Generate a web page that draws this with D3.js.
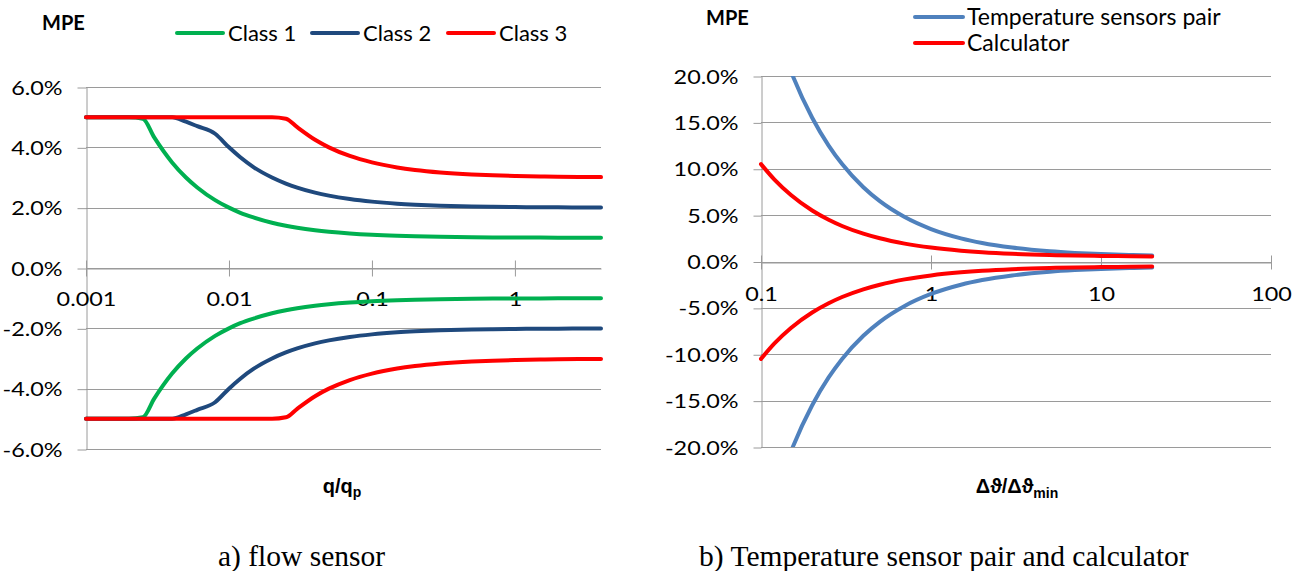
<!DOCTYPE html>
<html>
<head>
<meta charset="utf-8">
<script src="https://cdn.jsdelivr.net/npm/d3@7"></script>
<style>
  html, body { margin: 0; padding: 0; background: #fff; }
  svg { display: block; }
</style>
</head>
<body>
<svg id="chart" width="1303" height="571"></svg>
<script>
// ---------------- DATA ----------------
// a) flow sensor : x = q/qp, MPE in %
const flowX       = [0.001, 0.002, 0.0025, 0.003, 0.004, 0.005, 0.006, 0.008, 0.01, 0.012, 0.015, 0.02, 0.025, 0.03, 0.04, 0.05, 0.07, 0.1, 0.15, 0.2, 0.3, 0.5, 0.7, 1, 1.5, 2, 3, 4];
const class1Upper = [5, 5, 4.95, 4.33, 3.5, 3.0, 2.67, 2.25, 2.0, 1.83, 1.67, 1.5, 1.4, 1.333, 1.25, 1.2, 1.143, 1.1, 1.067, 1.05, 1.033, 1.02, 1.014, 1.01, 1.007, 1.005, 1.003, 1.0025];
const class1Lower = [-5, -5, -4.95, -4.33, -3.5, -3.0, -2.67, -2.25, -2.0, -1.83, -1.67, -1.5, -1.4, -1.333, -1.25, -1.2, -1.143, -1.1, -1.067, -1.05, -1.033, -1.02, -1.014, -1.01, -1.007, -1.005, -1.003, -1.0025];
const class2Upper = [5, 5, 5, 5, 5, 4.85, 4.7, 4.45, 4.0, 3.67, 3.33, 3.0, 2.8, 2.667, 2.5, 2.4, 2.286, 2.2, 2.133, 2.1, 2.067, 2.04, 2.029, 2.02, 2.013, 2.01, 2.007, 2.005];
const class2Lower = [-5, -5, -5, -5, -5, -4.85, -4.7, -4.45, -4.0, -3.67, -3.33, -3.0, -2.8, -2.667, -2.5, -2.4, -2.286, -2.2, -2.133, -2.1, -2.067, -2.04, -2.029, -2.02, -2.013, -2.01, -2.007, -2.005];
const class3Upper = [5, 5, 5, 5, 5, 5, 5, 5, 5, 5, 5, 5, 4.95, 4.667, 4.25, 4.0, 3.714, 3.5, 3.333, 3.25, 3.167, 3.1, 3.071, 3.05, 3.033, 3.025, 3.017, 3.0125];
const class3Lower = [-5, -5, -5, -5, -5, -5, -5, -5, -5, -5, -5, -5, -4.95, -4.667, -4.25, -4.0, -3.714, -3.5, -3.333, -3.25, -3.167, -3.1, -3.071, -3.05, -3.033, -3.025, -3.017, -3.0125];
const flowSeriesNames = ["Class 1", "Class 2", "Class 3"];
const flowYTicks = [-6, -4, -2, 0, 2, 4, 6];
const flowXTicks = [0.001, 0.01, 0.1, 1];
const flowXTickLabels = ["0.001", "0.01", "0.1", "1"];

// b) temperature sensor pair and calculator : x = Δϑ/Δϑmin, MPE in %
const tempX      = [0.1, 0.12, 0.15, 0.2, 0.25, 0.3, 0.4, 0.5, 0.7, 1, 1.5, 2, 3, 5, 7, 10, 15, 20];
const pairUpper  = [30.5, 25.5, 20.5, 15.5, 12.5, 10.5, 8.0, 6.5, 4.79, 3.5, 2.5, 2.0, 1.5, 1.1, 0.93, 0.8, 0.7, 0.65];
const pairLower  = [-30.5, -25.5, -20.5, -15.5, -12.5, -10.5, -8.0, -6.5, -4.79, -3.5, -2.5, -2.0, -1.5, -1.1, -0.93, -0.8, -0.7, -0.65];
const calcUpper  = [10.5, 8.83, 7.17, 5.5, 4.5, 3.83, 3.0, 2.5, 1.93, 1.5, 1.17, 1.0, 0.83, 0.7, 0.64, 0.6, 0.57, 0.55];
const calcLower  = [-10.5, -8.83, -7.17, -5.5, -4.5, -3.83, -3.0, -2.5, -1.93, -1.5, -1.17, -1.0, -0.83, -0.7, -0.64, -0.6, -0.57, -0.55];
const tempSeriesNames = ["Temperature sensors pair", "Calculator"];
const tempYTicks = [-20, -15, -10, -5, 0, 5, 10, 15, 20];
const tempXTicks = [0.1, 1, 10, 100];
const tempXTickLabels = ["0.1", "1", "10", "100"];

// ---------------- STYLE ----------------
const GRID = "#9a9a9a";
const FONT = "Lato, 'Open Sans', sans-serif";
const COLORS = { green: "#00B050", navy: "#1F497D", red: "#FF0000", blue: "#4F81BD" };
const LW = 4;
const TICK_FS = 19.5;   // tick label font size
const TICK_SX = 1.2;    // horizontal stretch of tick labels (matches the reference glyph proportions)

const svg = d3.select("#chart");
svg.append("rect").attr("width", 1303).attr("height", 571).attr("fill", "#fff");

const zip = (xs, ys) => xs.map((x, i) => [x, ys[i]]);

function drawPanel(cfg) {
  const g = svg.append("g");
  const x = d3.scaleLog().domain(cfg.xDomain).range(cfg.xRange);
  const y = d3.scaleLinear().domain(cfg.yDomain).range(cfg.yRange);
  const [x0, x1] = cfg.xRange;
  const [yb, yt] = cfg.yRange;

  // gridlines
  g.append("g").selectAll("line").data(cfg.yTicks).join("line")
    .attr("x1", x0).attr("x2", x1)
    .attr("y1", d => Math.round(y(d)) + 0.5).attr("y2", d => Math.round(y(d)) + 0.5)
    .attr("stroke", GRID).attr("stroke-width", 1);

  // y axis
  const ya = g.append("g").attr("transform", `translate(${Math.round(x0) + 0.5},0)`)
    .call(d3.axisLeft(y).tickValues(cfg.yTicks).tickSizeInner(cfg.yTickLen).tickSizeOuter(0)
      .tickPadding(cfg.yTickPad).tickFormat(d => d.toFixed(1) + "%"));
  ya.select(".domain").attr("stroke", GRID);
  ya.selectAll(".tick line").attr("stroke", GRID).attr("transform", "translate(0,0.5)");
  ya.selectAll(".tick text").attr("font-size", TICK_FS).attr("fill", "#000")
    .attr("font-family", FONT).attr("dy", "0.36em")
    .attr("x", -(cfg.yTickLen + cfg.yTickPad) / TICK_SX)
    .attr("transform", `scale(${TICK_SX},1)`);

  // x axis at y = 0
  const xa = g.append("g").attr("transform", `translate(0,${Math.round(y(0)) + 0.5})`)
    .call(d3.axisBottom(x).tickValues(cfg.xTicks).tickSizeInner(cfg.xTickLen).tickSizeOuter(0)
      .tickFormat((d, i) => cfg.xTickLabels[i]));
  xa.select(".domain").attr("stroke", GRID);
  xa.selectAll(".tick line").attr("stroke", GRID).attr("y1", -cfg.xTickLen).attr("y2", cfg.xTickLen);
  xa.selectAll(".tick text").attr("font-size", TICK_FS).attr("fill", "#000")
    .attr("font-family", FONT).attr("y", cfg.xLabelOffset).attr("dy", 0)
    .attr("transform", `scale(${TICK_SX},1)`);

  // clip
  const clipId = "clip" + cfg.id;
  svg.append("clipPath").attr("id", clipId).append("rect")
    .attr("x", x0 - 3).attr("y", yt).attr("width", x1 - x0 + 6).attr("height", yb - yt);

  const line = d3.line().x(d => x(d[0])).y(d => y(d[1])).curve(d3.curveMonotoneX);
  const lg = g.append("g").attr("clip-path", `url(#${clipId})`);
  cfg.series.forEach(s => {
    s.data.forEach(arr => {
      lg.append("path").datum(zip(cfg.xs, arr)).attr("d", line)
        .attr("fill", "none").attr("stroke", s.color).attr("stroke-width", LW)
        .attr("stroke-linecap", "round").attr("stroke-linejoin", "round");
    });
  });
  return g;
}

drawPanel({
  id: "a",
  xDomain: [0.001, 4], xRange: [86, 601],
  yDomain: [-6, 6], yRange: [449, 87],
  yTicks: flowYTicks, yTickLen: 9, yTickPad: 15,
  xTicks: flowXTicks, xTickLabels: flowXTickLabels, xTickLen: 8, xLabelOffset: 38,
  xs: flowX,
  series: [
    { color: COLORS.green, data: [class1Upper, class1Lower] },
    { color: COLORS.navy,  data: [class2Upper, class2Lower] },
    { color: COLORS.red,   data: [class3Upper, class3Lower] }
  ]
});

drawPanel({
  id: "b",
  xDomain: [0.1, 100], xRange: [761, 1271],
  yDomain: [-20, 20], yRange: [447, 76],
  yTicks: tempYTicks, yTickLen: 8, yTickPad: 15,
  xTicks: tempXTicks, xTickLabels: tempXTickLabels, xTickLen: 7, xLabelOffset: 39,
  xs: tempX,
  series: [
    { color: COLORS.blue, data: [pairUpper, pairLower] },
    { color: COLORS.red,  data: [calcUpper, calcLower] }
  ]
});

// ---------------- TITLES / LEGENDS ----------------
svg.append("text").attr("x", 42).attr("y", 30).text("MPE")
  .attr("font-family", FONT).attr("font-weight", "bold").attr("font-size", 20).attr("fill", "#000");
svg.append("text").attr("x", 706).attr("y", 25).text("MPE")
  .attr("font-family", FONT).attr("font-weight", "bold").attr("font-size", 20).attr("fill", "#000");

// left legend (horizontal)
const legA = [
  { name: flowSeriesNames[0], color: COLORS.green, x: 177 },
  { name: flowSeriesNames[1], color: COLORS.navy,  x: 312 },
  { name: flowSeriesNames[2], color: COLORS.red,   x: 448 }
];
legA.forEach(d => {
  svg.append("line").attr("x1", d.x).attr("x2", d.x + 46).attr("y1", 33).attr("y2", 33)
    .attr("stroke", d.color).attr("stroke-width", LW).attr("stroke-linecap", "round");
  svg.append("text").attr("x", d.x + 51).attr("y", 40.5).text(d.name)
    .attr("font-family", FONT).attr("font-size", 22).attr("fill", "#000");
});

// right legend (vertical)
const legB = [
  { name: tempSeriesNames[0], color: COLORS.blue, y: 17 },
  { name: tempSeriesNames[1], color: COLORS.red,  y: 43 }
];
legB.forEach(d => {
  svg.append("line").attr("x1", 915).attr("x2", 963).attr("y1", d.y).attr("y2", d.y)
    .attr("stroke", d.color).attr("stroke-width", LW).attr("stroke-linecap", "round");
  svg.append("text").attr("x", 967).attr("y", d.y + 8).text(d.name)
    .attr("font-family", FONT).attr("font-size", 23).attr("fill", "#000");
});

// axis titles
const tA = svg.append("text").attr("x", 342).attr("y", 493).attr("text-anchor", "middle")
  .attr("font-family", "'Liberation Sans', Arial, sans-serif").attr("font-weight", "bold")
  .attr("font-size", 20).attr("fill", "#000");
tA.append("tspan").text("q/q");
tA.append("tspan").text("p").attr("font-size", 14).attr("dy", 4);

const tB = svg.append("text").attr("x", 1017).attr("y", 493).attr("text-anchor", "middle")
  .attr("font-family", "'Liberation Sans', Arial, sans-serif").attr("font-weight", "bold")
  .attr("font-size", 20).attr("fill", "#000");
tB.append("tspan").text("Δϑ/Δϑ");
tB.append("tspan").text("min").attr("font-size", 14).attr("dy", 5);

// captions
svg.append("text").attr("x", 218).attr("y", 566).text("a) flow sensor")
  .attr("font-family", "'Liberation Serif', 'Times New Roman', serif").attr("font-size", 29.5).attr("fill", "#000");
svg.append("text").attr("x", 699).attr("y", 566).text("b) Temperature sensor pair and calculator")
  .attr("font-family", "'Liberation Serif', 'Times New Roman', serif").attr("font-size", 29.5).attr("fill", "#000");
</script>
</body>
</html>
